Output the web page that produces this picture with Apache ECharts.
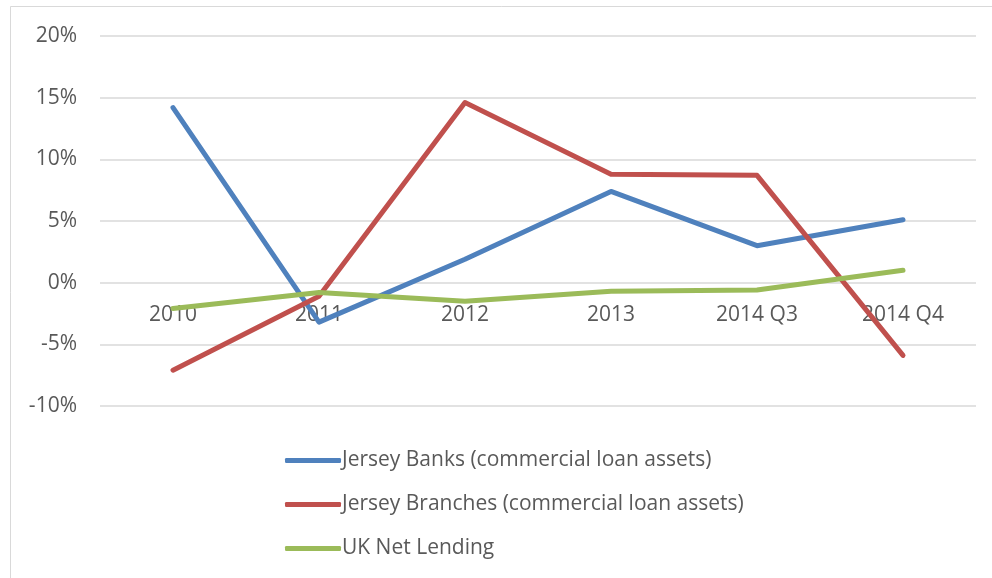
<!DOCTYPE html>
<html>
<head>
<meta charset="utf-8">
<script src="https://cdn.jsdelivr.net/npm/echarts@6/dist/echarts.min.js"></script>
<style>
  html, body { margin: 0; padding: 0; background: #fff; }
  #chart { width: 992px; height: 578px; }
</style>
</head>
<body>
<div id="chart"></div>
<script>
// Annual growth in commercial lending, per cent
const periods = ['2010', '2011', '2012', '2013', '2014 Q3', '2014 Q4'];
const jerseyBanks = [14.2, -3.2, 1.9, 7.4, 3.0, 5.1];
const jerseyBranches = [-7.1, -1.1, 14.6, 8.8, 8.7, -5.9];
const ukNetLending = [-2.1, -0.8, -1.5, -0.7, -0.6, 1.0];
const seriesNames = [
  'Jersey Banks (commercial loan assets)',
  'Jersey Branches (commercial loan assets)',
  'UK Net Lending'
];
const seriesColors = ['#4F81BD', '#C0504D', '#9BBB59'];

const font = 'Open Sans';
const textColor = '#595959';

const yMin = -10, yMax = 20;
const gridTop = 36, gridHeight = 370;
// category axis sits on the 0% line
const zeroOffset = -gridHeight * (0 - yMin) / (yMax - yMin);

const chart = echarts.init(document.getElementById('chart'), null, { renderer: 'canvas' });

function lineSeries(name, data, color) {
  return {
    name: name,
    type: 'line',
    data: data,
    symbol: 'none',
    showSymbol: false,
    lineStyle: { color: color, width: 5, cap: 'round', join: 'round' },
    itemStyle: { color: color },
    emphasis: { disabled: true }
  };
}

chart.setOption({
  animation: false,
  backgroundColor: '#fff',
  graphic: [{
    type: 'rect',
    shape: { x: 10.5, y: 6.5, width: 1000, height: 600 },
    style: { fill: 'none', stroke: '#D9D9D9', lineWidth: 1 },
    silent: true
  }],
  grid: { left: 100, right: 16, top: gridTop, height: gridHeight },
  xAxis: {
    type: 'category',
    data: periods,
    boundaryGap: true,
    offset: zeroOffset,
    axisLine: { show: false, onZero: false },
    axisTick: { show: false },
    axisLabel: { color: textColor, fontFamily: font, fontSize: 21, margin: 22 },
    splitLine: { show: false }
  },
  yAxis: {
    type: 'value',
    min: yMin,
    max: yMax,
    interval: 5,
    axisLine: { show: false },
    axisTick: { show: false },
    axisLabel: {
      color: textColor, fontFamily: font, fontSize: 21, margin: 23,
      formatter: v => v + '%'
    },
    splitLine: { lineStyle: { color: '#D9D9D9', width: 1.5 } }
  },
  legend: {
    orient: 'vertical',
    left: 280,
    top: 445,
    icon: 'roundRect',
    itemWidth: 56,
    itemHeight: 5,
    itemGap: 23,
    data: seriesNames,
    textStyle: { color: textColor, fontFamily: font, fontSize: 21, padding: [0, 0, 0, -4] }
  },
  series: [
    lineSeries(seriesNames[0], jerseyBanks, seriesColors[0]),
    lineSeries(seriesNames[1], jerseyBranches, seriesColors[1]),
    lineSeries(seriesNames[2], ukNetLending, seriesColors[2])
  ]
});
</script>
</body>
</html>
